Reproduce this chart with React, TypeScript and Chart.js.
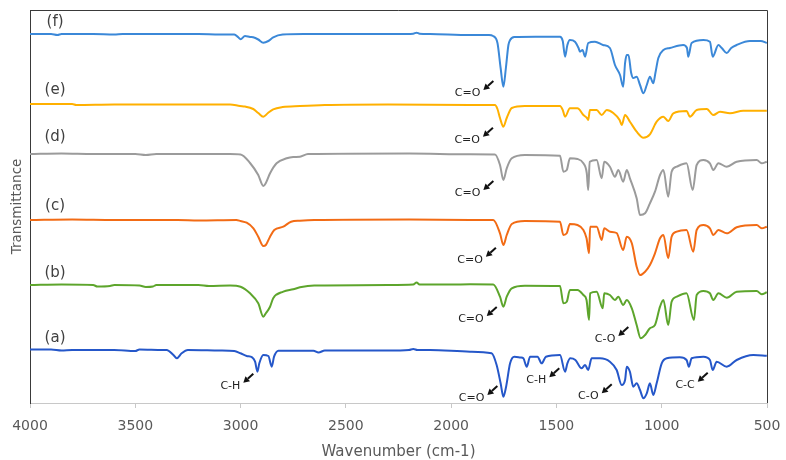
import React, { useEffect, useRef } from "react";
import { Chart, registerables } from "chart.js";

Chart.register(...registerables);

// ---- data: [wavenumber (cm-1), transmittance (arbitrary, stacked offset units)] ----
const X_MIN = 500;
const X_MAX = 4000;
const X_STEP = 500;
const Y_MIN = 0;
const Y_MAX = 393;

const traceA: [number, number][] = [
  [4000, 53.5], [3900, 53.5], [3850, 52.5], [3800, 53], [3700, 53], [3600, 53], [3500, 52], [3480, 53.5],
  [3370, 53], [3351, 53], [3319, 48], [3303, 44.7], [3280, 49.7], [3250, 53], [3100, 52.5], [3030, 52],
  [3000, 49.7], [2971, 47], [2945, 45.7], [2931, 41.3], [2920, 31.3], [2911, 39.7], [2892, 48], [2868, 47],
  [2852, 36.3], [2841, 46.3], [2820, 52.3], [2700, 52.3], [2654, 52.3], [2630, 50.5], [2600, 52.5],
  [2300, 52.5], [2200, 53], [2180, 54], [2160, 53], [2100, 53], [1910, 51.3], [1808, 49.7], [1784, 38],
  [1765, 19.7], [1752, 6.3],
  [1739, 16.3], [1720, 39.7], [1700, 46.3], [1670, 45.5], [1657, 44.7], [1641, 36.3], [1625, 46.3],
  [1590, 46.3], [1570, 39.7], [1550, 46.3], [1483, 48], [1459, 31.3], [1448, 39.7], [1434, 44.7],
  [1410, 43], [1380, 34.7], [1364, 38], [1349, 33], [1333, 44.7], [1293, 44.7], [1246, 41.3], [1214, 33],
  [1190, 18], [1174, 23], [1166, 36.3], [1151, 31.3], [1135, 16.3], [1119, 19.7], [1103, 13], [1087, 4.7],
  [1071, 9.7], [1056, 19.7], [1040, 8], [1024, 19.7], [1000, 39.7], [976, 44.7], [914, 45.7], [882, 43],
  [871, 36.3], [858, 44.7], [802, 46.3], [771, 43], [758, 33], [739, 41.3], [691, 36.3], [644, 43],
  [565, 48], [501, 47.3],
];

const traceB: [number, number][] = [
  [4000, 118], [3850, 118.5], [3700, 118], [3680, 116.5], [3620, 117], [3600, 118], [3480, 117.5],
  [3450, 116], [3416, 116.5], [3400, 118], [3200, 118], [3150, 117], [3050, 117.5], [3000, 116.3],
  [2955, 109.7], [2916, 99.7], [2892, 86.3], [2880, 89.7], [2860, 96.3], [2845, 104.7], [2797, 111.3],
  [2750, 113.7], [2718, 115.7], [2650, 117.5], [2600, 117.5], [2300, 118], [2180, 118.5], [2164, 120.5],
  [2150, 118.5], [2000, 118.5], [1910, 118.7], [1800, 118.5], [1768, 106.3], [1752, 96.3], [1736, 106.3],
  [1712, 114.7],
  [1650, 117.3], [1483, 117], [1467, 99.7], [1451, 101.3], [1436, 113], [1400, 113], [1372, 108],
  [1357, 103], [1345, 83], [1340, 109.7], [1309, 111.3], [1280, 94.7], [1273, 109.7], [1246, 108],
  [1222, 103], [1206, 106.3], [1183, 98], [1166, 103], [1142, 94.7], [1119, 78], [1100, 64.7], [1079, 68],
  [1056, 74.7], [1032, 78], [1008, 96.3], [992, 103], [969, 78], [953, 101.3], [929, 106.3], [882, 109.7],
  [847, 83], [834, 108], [802, 112], [771, 109.7], [755, 103], [731, 109.7], [691, 105.3], [644, 111.3],
  [549, 112], [525, 108.7], [501, 110.7],
];

const traceC: [number, number][] = [
  [4000, 183], [3800, 183.5], [3600, 183], [3300, 183], [3200, 182.5], [3020, 183], [3000, 182],
  [2971, 180.3], [2939, 174.7], [2916, 166.3], [2892, 157], [2880, 158], [2860, 166.3], [2840, 173],
  [2797, 176.3], [2760, 181.3], [2718, 182.3], [2650, 183], [2200, 183.5], [1910, 183], [1800, 183],
  [1768, 169.7], [1752, 158], [1736, 168], [1712, 179], [1650, 182], [1483, 181.3], [1467, 168],
  [1451, 169.7], [1436, 179], [1400, 178], [1372, 173], [1357, 164.7], [1345, 149.7], [1340, 176.3],
  [1309, 176.3], [1285, 163], [1273, 174.7], [1246, 171.3], [1214, 170], [1183, 153], [1166, 166.3],
  [1142, 159.7], [1119, 136.3], [1103, 128], [1079, 131.3], [1056, 138], [1032, 149.7], [1008, 164.7],
  [992, 168], [969, 144.7], [953, 166.3], [929, 171.3], [882, 173], [850, 151.3], [834, 173], [802, 178],
  [771, 174.7], [755, 168], [731, 173], [691, 169.7], [644, 175.7], [549, 178], [525, 174.7], [501, 176.3],
];

const traceD: [number, number][] = [
  [4000, 249], [3850, 249.5], [3700, 249], [3500, 249], [3450, 248], [3400, 249], [3050, 249],
  [3000, 248.5], [2955, 240], [2916, 228], [2892, 217], [2880, 220], [2860, 229.7], [2829, 239.7],
  [2781, 244.7], [2750, 246], [2718, 246.3], [2680, 249], [2200, 249.5], [1910, 248.7], [1792, 248.5],
  [1768, 238], [1752, 223], [1736, 234.7], [1712, 244.7], [1650, 248], [1483, 247.3], [1467, 231.3],
  [1451, 233], [1436, 244.7], [1400, 244], [1372, 239.7], [1356, 230], [1349, 213], [1342, 241.3],
  [1309, 243], [1285, 224.7], [1273, 241.3], [1246, 236.3], [1222, 226.3], [1206, 233], [1183, 221.3],
  [1166, 233], [1151, 224.7], [1119, 204.7], [1103, 188], [1079, 189.7], [1056, 199.7], [1032, 211.3],
  [1008, 228], [992, 233], [969, 206.3], [953, 231.3], [929, 236.3], [882, 239.7], [853, 213], [834, 238],
  [802, 243], [771, 239.7], [755, 233], [731, 239.7], [691, 236.3], [644, 241.3], [549, 243], [525, 239.7],
  [501, 241.3],
];

const traceE: [number, number][] = [
  [4000, 299], [3800, 299], [3780, 298], [3600, 298.5], [3050, 298.5], [3003, 297], [2979, 296.5],
  [2940, 294], [2916, 290], [2892, 286.3], [2870, 290], [2845, 293.7], [2800, 296], [2718, 297],
  [2600, 298], [2300, 298.5], [1910, 298], [1792, 298], [1780, 294], [1768, 285], [1752, 276.3],
  [1736, 285], [1712, 295], [1650, 297], [1483, 297], [1470, 293], [1459, 286.3], [1436, 294.7],
  [1400, 294.7], [1372, 288], [1355, 285], [1349, 283], [1341, 293], [1309, 293], [1285, 288], [1261, 293],
  [1230, 290], [1200, 283], [1190, 278], [1174, 288], [1151, 281.3], [1119, 271.3], [1087, 265.3],
  [1056, 268.7], [1024, 281.3], [992, 286.3], [969, 282], [945, 289.7], [882, 292], [866, 286.3],
  [834, 293], [786, 294], [755, 288], [723, 291.3], [676, 289.7], [613, 292.3], [501, 292.3],
];

const traceF: [number, number][] = [
  [4000, 369], [3900, 369], [3870, 368], [3850, 369], [3700, 369], [3600, 368.5], [3560, 369],
  [3200, 369], [3100, 368.5], [3030, 368.5], [3011, 365.7], [3000, 363.7], [2979, 367], [2955, 366],
  [2940, 365.7], [2916, 363.5], [2892, 360.3], [2868, 362], [2845, 365.7], [2800, 368.5], [2700, 369],
  [2400, 369], [2250, 369], [2180, 369.3], [2164, 370.3], [2150, 369.3], [2100, 369], [1910, 368],
  [1820, 368], [1801, 367],
  [1780, 360], [1765, 335], [1752, 316.3], [1740, 335], [1728, 358], [1720, 363], [1700, 366],
  [1600, 366.3], [1483, 366.3], [1470, 362], [1459, 346.3], [1448, 358], [1436, 363], [1412, 361.3],
  [1395, 355], [1388, 351.3], [1376, 353], [1364, 346.3], [1349, 360], [1317, 361.3], [1279, 358],
  [1246, 355], [1222, 338], [1198, 328], [1183, 316.3], [1174, 340], [1166, 348], [1158, 348], [1145, 330],
  [1135, 325], [1119, 326.3], [1103, 318], [1087, 309.7], [1071, 318], [1056, 326.3], [1040, 319.7],
  [1030, 330], [1016, 345], [992, 353], [961, 355], [898, 358], [880, 355], [874, 346.3], [858, 360],
  [802, 363], [771, 361.3], [758, 346.3], [731, 358], [715, 355], [691, 350], [670, 355], [644, 358],
  [581, 362], [530, 362], [501, 360],
];

const seriesNames = ["(a)", "(b)", "(c)", "(d)", "(e)", "(f)"];
const seriesData = [traceA, traceB, traceC, traceD, traceE, traceF];
const seriesColors = ["#2557C9", "#5DA52C", "#F26B15", "#9B9B9B", "#FFB000", "#3B88D8"];

// series tag positions (wavenumber, transmittance)
const tagWn = [3881, 3881, 3881, 3881, 3881, 3881];
const tagT = [65, 130, 196.7, 265.5, 313, 380.5];

// band annotations: arrow tip at (wn, t)
const noteText = ["C=O", "C=O", "C=O", "C=O", "C=O", "C-O", "C=O", "C-H", "C-O", "C-C", "C-H"];
const noteWn = [1847, 1849, 1847, 1835, 1831, 1206, 1828, 1534, 1285, 829, 2987];
const noteT = [313, 266.3, 213, 146.3, 87, 67, 8, 25.7, 9.7, 21.3, 20.3];

const FONT = '"DejaVu Sans", Verdana, sans-serif';

export default function App() {
  const ref = useRef<HTMLCanvasElement>(null);

  useEffect(() => {
    document.body.style.margin = "0";
    const canvas = ref.current!;

    const overlay = {
      id: "overlay",
      afterDraw(chart: any) {
        const { ctx, chartArea, scales } = chart;
        const xs = scales.x;
        const ys = scales.y;
        ctx.save();
        // frame (top + right)
        ctx.strokeStyle = "#3a3a3a";
        ctx.lineWidth = 1;
        ctx.beginPath();
        ctx.moveTo(chartArea.left, Math.round(chartArea.top) + 0.5);
        ctx.lineTo(Math.round(chartArea.right) + 0.5, Math.round(chartArea.top) + 0.5);
        ctx.lineTo(Math.round(chartArea.right) + 0.5, chartArea.bottom);
        ctx.stroke();

        // series tags
        ctx.font = `15px ${FONT}`;
        ctx.fillStyle = "#404040";
        ctx.textAlign = "center";
        ctx.textBaseline = "middle";
        for (let i = 0; i < seriesNames.length; i++) {
          ctx.fillText(seriesNames[i], xs.getPixelForValue(tagWn[i]), ys.getPixelForValue(tagT[i]));
        }

        // annotations
        for (let i = 0; i < noteText.length; i++) {
          const px = xs.getPixelForValue(noteWn[i]);
          const py = ys.getPixelForValue(noteT[i]);
          const tx = px + 10;
          const ty = py - 9;
          const dx = px - tx;
          const dy = py - ty;
          const len = Math.hypot(dx, dy);
          const ux = dx / len;
          const uy = dy / len;
          const head = 6;
          const hw = 3.4;
          const bx = px - ux * head;
          const by = py - uy * head;
          ctx.strokeStyle = "#111";
          ctx.fillStyle = "#111";
          ctx.lineWidth = 2;
          ctx.beginPath();
          ctx.moveTo(tx, ty);
          ctx.lineTo(bx, by);
          ctx.stroke();
          ctx.beginPath();
          ctx.moveTo(px, py);
          ctx.lineTo(bx - uy * hw, by + ux * hw);
          ctx.lineTo(bx + uy * hw, by - ux * hw);
          ctx.closePath();
          ctx.fill();

          ctx.font = `11px ${FONT}`;
          ctx.fillStyle = "#222";
          ctx.textAlign = "right";
          ctx.textBaseline = "middle";
          ctx.fillText(noteText[i], px - 3, py + 3);
        }
        ctx.restore();
      },
    };

    const chart = new Chart(canvas, {
      type: "line",
      data: {
        datasets: seriesData.map((d, i) => ({
          label: seriesNames[i],
          data: d.map(([x, y]) => ({ x, y })),
          borderColor: seriesColors[i],
          backgroundColor: seriesColors[i],
          borderWidth: 2,
          pointRadius: 0,
          fill: false,
          cubicInterpolationMode: "monotone" as const,
        })),
      },
      options: {
        responsive: false,
        animation: false,
        events: [],
        layout: { padding: { top: 10, right: 19, left: 0, bottom: 0 } },
        plugins: { legend: { display: false }, tooltip: { enabled: false } },
        scales: {
          x: {
            type: "linear",
            reverse: true,
            min: X_MIN,
            max: X_MAX,
            ticks: {
              stepSize: X_STEP,
              color: "#595959",
              font: { family: FONT, size: 14 },
              padding: 10,
              maxRotation: 0,
              callback: (v: any) => String(v),
            },
            grid: { drawOnChartArea: false, drawTicks: true, tickLength: 5, color: "#c8c8c8" },
            border: { color: "#c8c8c8", width: 1 },
            title: {
              display: true,
              text: "Wavenumber (cm-1)",
              color: "#595959",
              font: { family: FONT, size: 15, lineHeight: 1 },
              padding: { top: 0, bottom: 0 },
            },
            afterFit: (s: any) => {
              s.height = 57;
              s.paddingLeft = 0;
              s.paddingRight = 0;
            },
          },
          y: {
            min: Y_MIN,
            max: Y_MAX,
            ticks: { display: false },
            grid: { drawOnChartArea: false, drawTicks: false },
            border: { color: "#3a3a3a", width: 1 },
            title: {
              display: true,
              text: "Transmittance",
              color: "#595959",
              font: { family: FONT, size: 13.5 },
              padding: { top: 9, bottom: 0 },
            },
            afterFit: (s: any) => {
              s.width = 30;
              s.paddingTop = 0;
              s.paddingBottom = 0;
            },
          },
        },
      },
      plugins: [overlay],
    });

    return () => chart.destroy();
  }, []);

  return <canvas ref={ref} width={786} height={460} style={{ display: "block" }} />;
}
